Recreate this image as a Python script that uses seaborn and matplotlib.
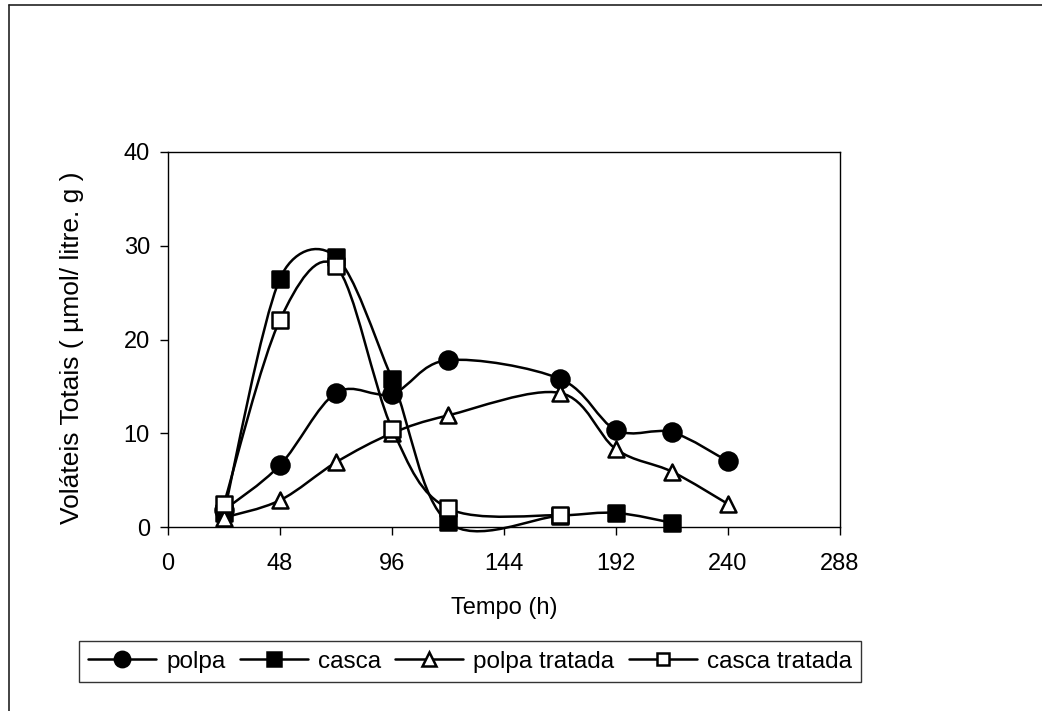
import numpy as np
import pandas as pd
import matplotlib
matplotlib.use("Agg")
import matplotlib.pyplot as plt
from matplotlib.path import Path
from matplotlib.patches import PathPatch
from matplotlib.lines import Line2D
import seaborn as sns

# ---- data ----
t_polpa = [24, 48, 72, 96, 120, 168, 192, 216, 240]
v_polpa = [1.8, 6.6, 14.3, 14.2, 17.8, 15.8, 10.35, 10.1, 7.0]

t_casca = [24, 48, 72, 96, 120, 168, 192, 216]
v_casca = [1.5, 26.5, 28.8, 15.8, 0.5, 1.2, 1.5, 0.45]

t_polpa_trat = [24, 48, 72, 96, 120, 168, 192, 216, 240]
v_polpa_trat = [1.0, 2.85, 6.9, 10.0, 11.9, 14.3, 8.3, 5.9, 2.45]

t_casca_trat = [24, 48, 72, 96, 120, 168]
v_casca_trat = [2.5, 22.1, 27.8, 10.5, 2.0, 1.25]

series_names = ["polpa", "casca", "polpa tratada", "casca tratada"]
x_ticks = [0, 48, 96, 144, 192, 240, 288]
y_ticks = [0, 10, 20, 30, 40]

sns.set_theme(style="white")
plt.rcParams['font.family'] = ['Liberation Sans', 'DejaVu Sans']
plt.rcParams['text.color'] = 'black'

W, H = 1042, 711
fig = plt.figure(figsize=(W / 100, H / 100), dpi=100)
ax = fig.add_axes([168 / W, 1 - 527 / H, (840 - 168) / W, (527 - 152) / H])
ax.set_xlim(0, 288)
ax.set_ylim(0, 40)


def smooth_path(ax, xs, ys):
    """Excel-like smoothed line: cubic Bezier segments with clamped tangents."""
    data_pts = np.column_stack([np.asarray(xs, float), np.asarray(ys, float)])
    pix = ax.transData.transform(data_pts)
    n = len(pix)
    verts = [pix[0]]
    codes = [Path.MOVETO]
    for i in range(n - 1):
        p0 = pix[i - 1] if i > 0 else pix[i]
        p1 = pix[i]
        p2 = pix[i + 1]
        p3 = pix[i + 2] if i + 2 < n else pix[i + 1]
        d12 = np.hypot(*(p2 - p1))
        d02 = np.hypot(*(p2 - p0))
        d13 = np.hypot(*(p3 - p1))
        if d02 / 6 < d12 / 2 or d02 == 0:
            c1 = p1 + (p2 - p0) / 6.0
        else:
            c1 = p1 + (p2 - p0) * (d12 / 2) / d02
        if d13 / 6 < d12 / 2 or d13 == 0:
            c2 = p2 - (p3 - p1) / 6.0
        else:
            c2 = p2 - (p3 - p1) * (d12 / 2) / d13
        verts += [c1, c2, p2]
        codes += [Path.CURVE4] * 3
    verts = ax.transData.inverted().transform(np.array(verts))
    return Path(verts, codes)


styles = [
    dict(marker="o", face="black", size=13.0),
    dict(marker="s", face="black", size=11.5),
    dict(marker="^", face="white", size=11.5),
    dict(marker="s", face="white", size=11.0),
]
data = [(t_polpa, v_polpa), (t_casca, v_casca),
        (t_polpa_trat, v_polpa_trat), (t_casca_trat, v_casca_trat)]

LW = 1.8
for i, ((xs, ys), st, name) in enumerate(zip(data, styles, series_names)):
    patch = PathPatch(smooth_path(ax, xs, ys), facecolor="none", edgecolor="black",
                      lw=LW, zorder=2 + 2 * i, capstyle="round", joinstyle="round",
                      clip_on=False)
    ax.add_patch(patch)
    df = pd.DataFrame({"t": xs, "v": ys})
    sns.scatterplot(data=df, x="t", y="v", ax=ax, marker=st["marker"],
                    s=st["size"] ** 2, color=st["face"], edgecolor="black",
                    linewidth=1.8, zorder=3 + 2 * i, legend=False, clip_on=False)

ax.set_xlim(0, 288)
ax.set_ylim(0, 40)
ax.set_xticks(x_ticks)
ax.set_yticks(y_ticks)
ax.set_xticklabels([str(v) for v in x_ticks])
ax.set_yticklabels([str(v) for v in y_ticks])
ax.tick_params(axis="both", direction="out", length=6, width=1.0, color="black",
               labelsize=17, labelcolor="black", bottom=True, left=True)
ax.tick_params(axis="x", pad=13)
ax.tick_params(axis="y", pad=7)
for sp in ax.spines.values():
    sp.set_visible(True)
    sp.set_color("black")
    sp.set_linewidth(1.0)
ax.grid(False)
ax.set_facecolor("white")
ax.set_xlabel("")
ax.set_ylabel("")

fig.text(504 / W, 1 - 608 / H, "Tempo (h)", ha="center", va="center",
         fontsize=17, color="black")
fig.text(72 / W, 1 - 348 / H, "Voláteis Totais ( µmol/ litre. g )", ha="center",
         va="center", rotation=90, fontsize=19, color="black")

handles = [Line2D([0], [0], color="black", lw=LW, marker=st["marker"],
                  markersize=st["size"] * 0.85, markerfacecolor=st["face"],
                  markeredgecolor="black", markeredgewidth=1.8)
           for st in styles]
leg = fig.legend(handles, series_names, loc="center", ncol=4,
                 bbox_to_anchor=(470 / W, 1 - 661.5 / H), frameon=True,
                 fancybox=False, shadow=False, fontsize=17.5, handlelength=2.8,
                 handletextpad=0.4, columnspacing=0.6, borderpad=0.38,
                 borderaxespad=0, labelcolor="black")
leg.get_frame().set_edgecolor("black")
leg.get_frame().set_linewidth(1.0)

# outer chart-area border (only top and left edges visible)
fig.add_artist(Line2D([9 / W, 9 / W], [0, 1 - 5 / H], transform=fig.transFigure,
                      color="#222222", lw=1.2))
fig.add_artist(Line2D([9 / W, 1], [1 - 5 / H, 1 - 5 / H], transform=fig.transFigure,
                      color="#222222", lw=1.2))

fig.savefig("out.png", dpi=100, facecolor="white")
